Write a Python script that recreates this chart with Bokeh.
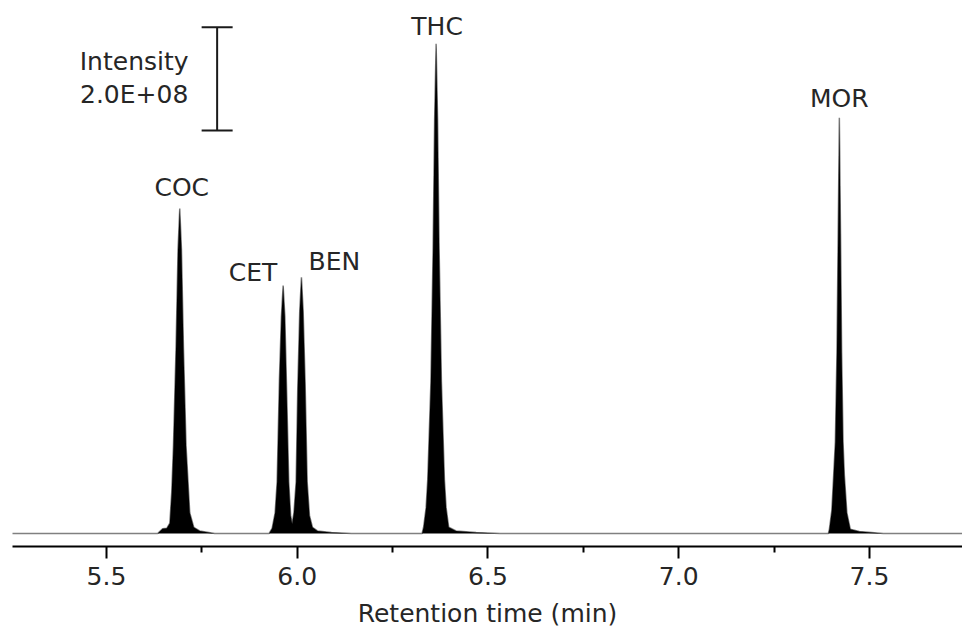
from bokeh.plotting import figure
from bokeh.models import Range1d, FixedTicker, ColumnDataSource
from bokeh.core.properties import value
from bokeh.embed import file_html
from bokeh.resources import INLINE

# ---------------- data ----------------
# chromatogram trace: retention time (min) and intensity (counts)
trace_time = [
    5.25,
    5.634, 5.647, 5.658, 5.666, 5.671, 5.6755, 5.6823, 5.6875, 5.692,
    5.6965, 5.7017, 5.7085, 5.7182, 5.7287, 5.7444, 5.7837,
    5.9263, 5.9342, 5.942, 5.9473, 5.9533, 5.9585, 5.963, 5.9675, 5.9727,
    5.9777, 5.9827, 5.9866, 5.9913, 5.9971, 6.0013, 6.0065, 6.011, 6.0155,
    6.0207, 6.026, 6.032, 6.0398, 6.053, 6.0896, 6.142,
    6.3273, 6.3312, 6.3378, 6.342, 6.3504, 6.3561, 6.3601, 6.364, 6.3679,
    6.3719, 6.3779, 6.3858, 6.3902, 6.397, 6.4164, 6.4688, 6.5317,
    7.3922, 7.3948, 7.4013, 7.4061, 7.4105, 7.4147, 7.4179, 7.421, 7.4241,
    7.427, 7.4307, 7.4341, 7.4407, 7.4498, 7.4734, 7.5363,
    7.75,
]
trace_intensity = [
    0,
    0, 0.09e8, 0.10e8, 0.20e8, 0.80e8, 1.7e8, 3.6e8, 5.5e8, 6.29e8,
    5.5e8, 3.6e8, 1.7e8, 0.4e8, 0.12e8, 0.05e8, 0,
    0, 0.1e8, 0.4e8, 1.0e8, 3.0e8, 4.2e8, 4.80e8, 4.2e8, 2.6e8,
    1.0e8, 0.35e8, 0.19e8, 0.4e8, 1.0e8, 2.8e8, 4.3e8, 4.96e8, 4.3e8,
    2.9e8, 1.0e8, 0.35e8, 0.12e8, 0.05e8, 0.02e8, 0,
    0, 0.12e8, 0.5e8, 1.04e8, 2.94e8, 5.5e8, 8.0e8, 9.48e8, 8.0e8,
    5.5e8, 2.94e8, 1.04e8, 0.5e8, 0.12e8, 0.05e8, 0.02e8, 0,
    0, 0.08e8, 0.45e8, 1.13e8, 1.77e8, 3.5e8, 5.8e8, 8.05e8, 5.8e8,
    3.5e8, 1.77e8, 1.13e8, 0.4e8, 0.08e8, 0.04e8, 0,
    0,
]

# peaks
compounds = ["COC", "CET", "BEN", "THC", "MOR"]
peak_rt = [5.692, 5.963, 6.011, 6.364, 7.421]
peak_height = [6.29e8, 4.80e8, 4.96e8, 9.48e8, 8.05e8]

# axis
tick_values = [5.5, 6.0, 6.5, 7.0, 7.5]
tick_labels = ["5.5", "6.0", "6.5", "7.0", "7.5"]
minor_tick_values = [5.75, 6.25, 6.75, 7.25]
x_label = "Retention time (min)"

# intensity scale bar
scale_bar_value = 2.0e8
scale_bar_texts = ["Intensity", "2.0E+08"]

# ---------------- styling / layout ----------------
FONT = value("DejaVu Sans")
TEXT_COLOR = "#262626"

p = figure(
    width=962, height=630,
    output_backend="svg", toolbar_location=None,
    x_range=Range1d(5.2536, 7.7438),
    y_range=Range1d(-2.52e7, 1.0319e9),
    y_axis_location=None,
    min_border_left=12, min_border_right=0,
    min_border_top=0, min_border_bottom=84,
)
p.outline_line_color = None
p.xgrid.visible = False
p.ygrid.visible = False
p.background_fill_color = "white"
p.border_fill_color = "white"

ax = p.xaxis[0]
ax.ticker = FixedTicker(ticks=tick_values, minor_ticks=minor_tick_values)
ax.major_label_overrides = {t: l for t, l in zip(tick_values, tick_labels)}
ax.axis_line_width = 2
ax.axis_line_color = "black"
ax.major_tick_line_width = 2
ax.major_tick_line_color = "black"
ax.minor_tick_line_width = 2
ax.minor_tick_line_color = "black"
ax.major_tick_in = 0
ax.major_tick_out = 12
ax.minor_tick_in = 0
ax.minor_tick_out = 6
ax.major_label_text_font = "DejaVu Sans"
ax.major_label_text_font_size = "25px"
ax.major_label_text_color = TEXT_COLOR
ax.major_label_standoff = 8
ax.axis_label = x_label
ax.axis_label_text_font = "DejaVu Sans"
ax.axis_label_text_font_size = "25px"
ax.axis_label_text_font_style = "normal"
ax.axis_label_text_color = TEXT_COLOR
ax.axis_label_standoff = 11

# trace
src = ColumnDataSource(dict(t=trace_time, i=trace_intensity))
p.line("t", "i", source=src, line_color="#808080", line_width=1.5)
p.varea(x="t", y1=0, y2="i", source=src, fill_color="black")

# peak labels (offsets in screen px relative to apex)
lab_dx = [2, -30, 33, 1, 0]
lab_dy = [-21, -13, -16, -17, -19]
lsrc = ColumnDataSource(dict(x=peak_rt, y=peak_height, text=compounds,
                             dx=lab_dx, dy=lab_dy))
p.text(x="x", y="y", text="text", source=lsrc, x_offset="dx", y_offset="dy",
       text_font=FONT, text_font_size="25px", text_align="center",
       text_baseline="alphabetic", text_color=TEXT_COLOR)

# scale bar
bar_x = 5.790
bar_bottom = 7.8e8
bar_top = bar_bottom + scale_bar_value
p.segment(x0=[bar_x], y0=[bar_bottom], x1=[bar_x], y1=[bar_top],
          line_color="#1a1a1a", line_width=2)
p.scatter(x=[bar_x, bar_x], y=[bar_bottom, bar_top], marker="dash",
          size=31, line_color="#1a1a1a", line_width=2)
bar_mid = (bar_top + bar_bottom) / 2
ssrc = ColumnDataSource(dict(x=[bar_x, bar_x], y=[bar_mid, bar_mid],
                             text=scale_bar_texts, dy=[-17, 16]))
p.text(x="x", y="y", text="text", source=ssrc, x_offset=-83, y_offset="dy",
       text_font=FONT, text_font_size="25px", text_align="center",
       text_baseline="alphabetic", text_color=TEXT_COLOR)

open("out.html", "w").write(file_html(p, INLINE))
